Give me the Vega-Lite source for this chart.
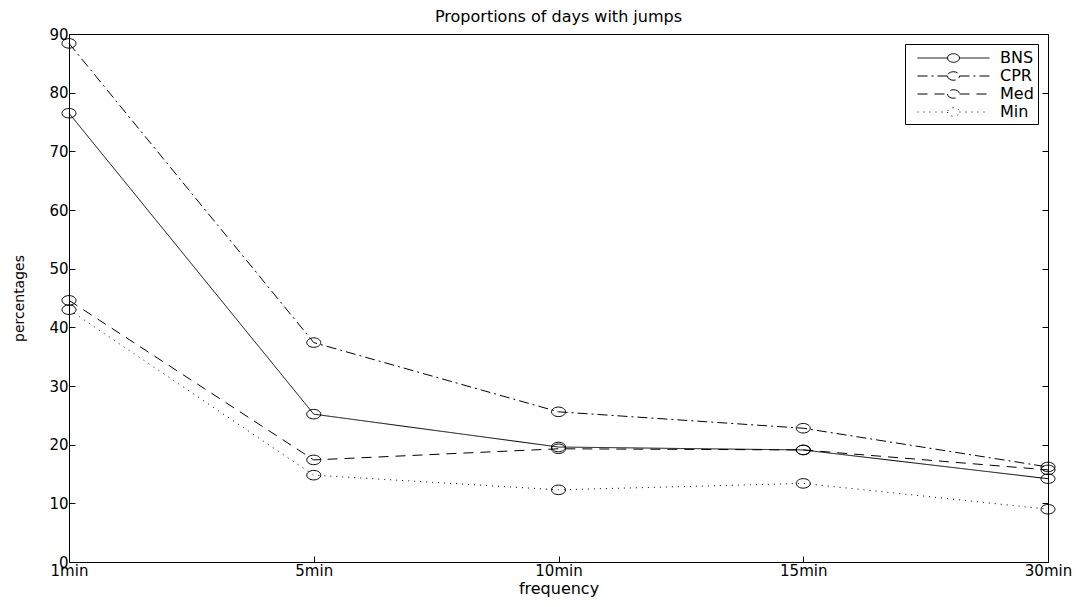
{
  "$schema": "https://vega.github.io/schema/vega-lite/v6.json",
  "autosize": "none",
  "padding": {"left": 69, "top": 34, "right": 37, "bottom": 45},
  "width": 979,
  "height": 528,
  "background": "white",
  "config": {
    "font": "DejaVu Sans",
    "view": {"stroke": "black", "strokeWidth": 1},
    "axis": {"grid": false, "domainColor": "black", "tickColor": "black", "labelColor": "black", "titleColor": "black", "labelFontSize": 15, "titleFontSize": 15, "titleFontWeight": "normal", "tickSize": -6, "labelPadding": 7}
  },
  "title": {"text": "Proportions of days with jumps", "fontSize": 16, "fontWeight": "normal", "color": "black", "offset": 2},
  "data": {"values": [
    {"freq": "1min", "series": "BNS", "value": 76.5},
    {"freq": "5min", "series": "BNS", "value": 25.2},
    {"freq": "10min", "series": "BNS", "value": 19.6},
    {"freq": "15min", "series": "BNS", "value": 19.1},
    {"freq": "30min", "series": "BNS", "value": 14.2},
    {"freq": "1min", "series": "CPR", "value": 88.4},
    {"freq": "5min", "series": "CPR", "value": 37.4},
    {"freq": "10min", "series": "CPR", "value": 25.6},
    {"freq": "15min", "series": "CPR", "value": 22.8},
    {"freq": "30min", "series": "CPR", "value": 16.2},
    {"freq": "1min", "series": "Med", "value": 44.6},
    {"freq": "5min", "series": "Med", "value": 17.4},
    {"freq": "10min", "series": "Med", "value": 19.3},
    {"freq": "15min", "series": "Med", "value": 19.1},
    {"freq": "30min", "series": "Med", "value": 15.7},
    {"freq": "1min", "series": "Min", "value": 43.0},
    {"freq": "5min", "series": "Min", "value": 14.8},
    {"freq": "10min", "series": "Min", "value": 12.3},
    {"freq": "15min", "series": "Min", "value": 13.4},
    {"freq": "30min", "series": "Min", "value": 9.0}
  ]},
  "layer": [
    {
      "encoding": {
        "x": {"field": "freq", "type": "ordinal", "sort": ["1min", "5min", "10min", "15min", "30min"], "scale": {"type": "point", "padding": 0}, "axis": {"title": "frequency", "labelAngle": 0, "titlePadding": 2, "domain": false, "titleFontSize": 16}},
        "y": {"field": "value", "type": "quantitative", "scale": {"domain": [0, 90]}, "axis": {"orient": "left", "title": "percentages", "values": [0,10,20,30,40,50,60,70,80,90], "titlePadding": 22, "domain": false, "titleFontSize": 14}}
      },
      "layer": [
        {
          "mark": {"type": "line", "color": "black", "strokeWidth": 1},
          "encoding": {
            "strokeDash": {"field": "series", "type": "nominal", "scale": {"domain": ["BNS", "CPR", "Med", "Min"], "range": [[1, 0], [10, 4, 2, 4], [10, 7], [1, 5]]},
              "legend": {"title": null, "orient": "top-right", "offset": 10, "strokeColor": "black", "fillColor": "white", "padding": 4, "labelFontSize": 16, "labelColor": "black", "symbolStrokeColor": "black", "symbolStrokeWidth": 1, "symbolSize": 361, "symbolOffset": 34.5, "labelOffset": 36.5, "symbolType": "M-3.79,0H-0.63M0.63,0H3.79M-0.63,0A0.63,0.45 0 1,0 0.63,0A0.63,0.45 0 1,0 -0.63,0", "rowPadding": 0, "cornerRadius": 0}}
          }
        },
        {
          "mark": {"type": "point", "shape": "M-1,0A1,0.68 0 1,0 1,0A1,0.68 0 1,0 -1,0", "filled": false, "color": "black", "strokeWidth": 1, "size": 196, "opacity": 1},
          "encoding": {"detail": {"field": "series"}}
        }
      ]
    },
    {
      "mark": {"type": "point", "opacity": 0},
      "encoding": {
        "y": {"field": "value", "type": "quantitative", "scale": {"domain": [0, 90]}, "axis": {"orient": "right", "title": null, "labels": false, "values": [0,10,20,30,40,50,60,70,80,90], "domain": false}}
      }
    }
  ],
  "resolve": {"axis": {"y": "independent"}}
}
